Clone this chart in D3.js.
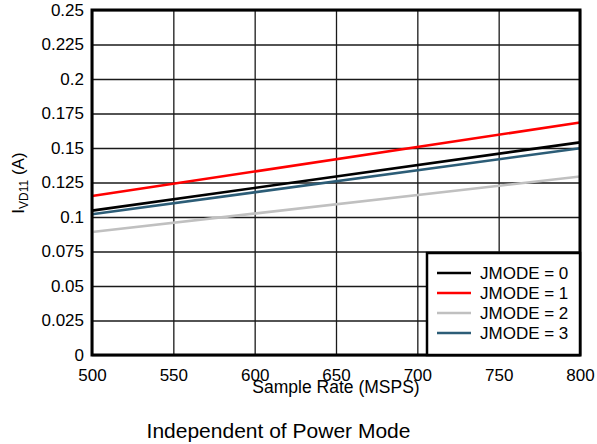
<!DOCTYPE html>
<html>
<head>
<meta charset="utf-8">
<script src="https://cdn.jsdelivr.net/npm/d3@7"></script>
<style>
  html, body { margin: 0; padding: 0; background: #fff; }
  svg { display: block; font-family: "Liberation Sans", Arial, sans-serif; }
</style>
</head>
<body>
<svg id="chart" width="597" height="444"></svg>
<script>
// ---- data ----
const sampleRates = [500, 800];
const jmode0 = [0.1046, 0.1541];
const jmode1 = [0.1152, 0.1685];
const jmode2 = [0.0891, 0.1293];
const jmode3 = [0.1020, 0.1498];
const seriesNames = ["JMODE = 0", "JMODE = 1", "JMODE = 2", "JMODE = 3"];
const seriesColors = ["#000000", "#ff0000", "#c0c0c0", "#2c5d77"];
const xTicks = [500, 550, 600, 650, 700, 750, 800];
const yTicks = [0, 0.025, 0.05, 0.075, 0.1, 0.125, 0.15, 0.175, 0.2, 0.225, 0.25];
const yTickLabels = ["0", "0.025", "0.05", "0.075", "0.1", "0.125", "0.15", "0.175", "0.2", "0.225", "0.25"];

const allSeries = [jmode0, jmode1, jmode2, jmode3];

const svg = d3.select("#chart");
const m = { left: 92, right: 580, top: 10, bottom: 355 };

const x = d3.scaleLinear().domain([500, 800]).range([m.left, m.right]);
const y = d3.scaleLinear().domain([0, 0.25]).range([m.bottom, m.top]);

// grid
const gx = svg.append("g")
  .attr("transform", `translate(0,${m.bottom})`)
  .call(d3.axisBottom(x).tickValues(xTicks).tickSize(-(m.bottom - m.top)).tickFormat(d3.format("d")).tickPadding(14));
gx.select(".domain").remove();
gx.selectAll(".tick line").attr("stroke", "#1a1a1a").attr("stroke-width", 1.3);
gx.selectAll(".tick text").attr("font-size", "17px").attr("fill", "#000")
  .attr("font-family", "'Liberation Sans', Arial, sans-serif");

const gy = svg.append("g")
  .attr("transform", `translate(${m.left},0)`)
  .call(d3.axisLeft(y).tickValues(yTicks).tickSize(-(m.right - m.left))
    .tickFormat((d, i) => yTickLabels[i]).tickPadding(8));
gy.select(".domain").remove();
gy.selectAll(".tick line").attr("stroke", "#1a1a1a").attr("stroke-width", 1.3);
gy.selectAll(".tick text").attr("font-size", "17px").attr("fill", "#000")
  .attr("font-family", "'Liberation Sans', Arial, sans-serif");

// lines
const line = d3.line().x((d, i) => x(sampleRates[i])).y(d => y(d));
allSeries.forEach((s, k) => {
  svg.append("path").datum(s)
    .attr("d", line)
    .attr("fill", "none")
    .attr("stroke", seriesColors[k])
    .attr("stroke-width", 2.6);
});

// frame
svg.append("rect")
  .attr("x", m.left).attr("y", m.top)
  .attr("width", m.right - m.left).attr("height", m.bottom - m.top)
  .attr("fill", "none").attr("stroke", "#000").attr("stroke-width", 3);

// legend
const lg = { x: 427, y: 253, w: 580 - 427, h: 355 - 253 };
svg.append("rect")
  .attr("x", lg.x).attr("y", lg.y).attr("width", lg.w).attr("height", lg.h)
  .attr("fill", "#fff").attr("stroke", "#000").attr("stroke-width", 2.5);
seriesNames.forEach((name, k) => {
  const ry = 273 + k * 20;
  svg.append("line")
    .attr("x1", 437).attr("x2", 471).attr("y1", ry).attr("y2", ry)
    .attr("stroke", seriesColors[k]).attr("stroke-width", 2.6);
  svg.append("text")
    .attr("x", 480).attr("y", ry).attr("dy", "0.35em")
    .attr("font-size", "17px").attr("fill", "#000")
    .text(name);
});

// axis titles
svg.append("text")
  .attr("x", (m.left + m.right) / 2).attr("y", 393)
  .attr("text-anchor", "middle").attr("font-size", "17.5px")
  .text("Sample Rate (MSPS)");

const yl = svg.append("text")
  .attr("transform", "translate(24,183) rotate(-90)")
  .attr("text-anchor", "middle").attr("font-size", "17px");
yl.append("tspan").text("I");
yl.append("tspan").attr("font-size", "12px").attr("dy", "4").text("VD11");
yl.append("tspan").attr("dy", "-4").text(" (A)");

// caption
svg.append("text")
  .attr("x", 278.5).attr("y", 438)
  .attr("text-anchor", "middle").attr("font-size", "21px")
  .text("Independent of Power Mode");
</script>
</body>
</html>
